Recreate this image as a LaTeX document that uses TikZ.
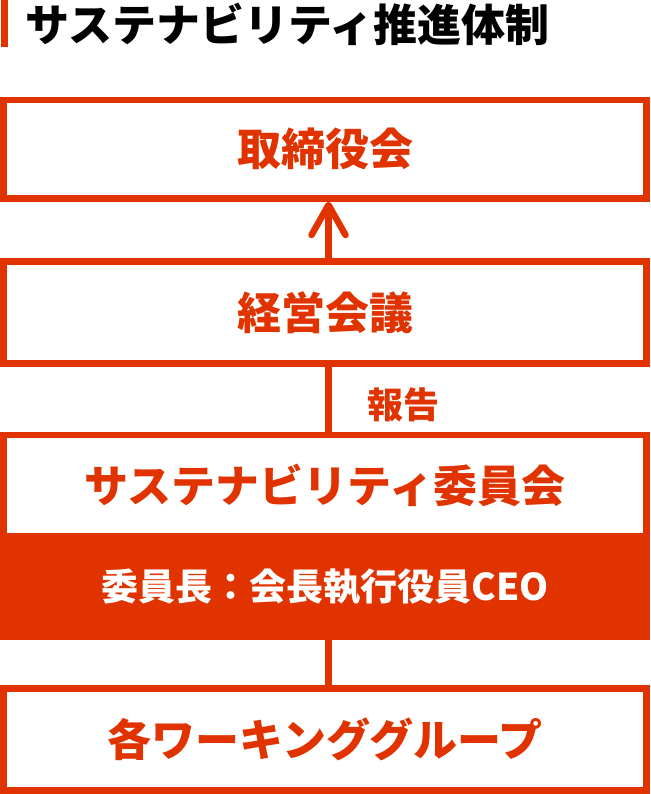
\documentclass[tikz,border=0pt]{standalone}
\usepackage{fontspec}
\setmainfont{Noto Sans CJK JP}
\usetikzlibrary{arrows.meta}
\definecolor{brand}{HTML}{E03300}
\tikzset{
  box/.style={draw=brand, line width=6.5pt, minimum width=643pt, inner sep=0pt, text=brand,
    font=\fontsize{44}{50}\selectfont\bfseries},
  filledbox/.style={box, fill=brand, text=white, font=\fontsize{37}{42}\selectfont\bfseries},
  link/.style={draw=brand, line width=6.5pt},
  uparrow/.style={link, -{Straight Barb[length=30pt, width=34pt, round]}},
  lbl/.style={text=brand, inner sep=0pt, font=\fontsize{36}{40}\selectfont\bfseries},
  titletext/.style={text=black, inner sep=0pt, anchor=west, font=\fontsize{44}{50}\selectfont\bfseries}
}
\begin{document}
\begin{tikzpicture}[x=1pt, y=-1pt]
\useasboundingbox (0,0) rectangle (650,794);
% title
\fill[brand] (1,0) rectangle (7.5,47);
\node[titletext] (title) at (25,24) {サステナビリティ推進体制};
% boxes
\node[box, minimum height=98.5pt] (board) at (325,149.25) {取締役会};
\node[box, minimum height=102pt] (mgmt) at (325,312.5) {経営会議};
\node[box, minimum height=101.25pt] (comm) at (325,485.6) {サステナビリティ委員会};
\node[filledbox, minimum height=100.5pt] (chair) at (325,586.5) {委員長：会長執行役員CEO};
\node[box, minimum height=102pt] (wg) at (325,739.5) {各ワーキンググループ};
% connectors
\draw[uparrow] ([xshift=3.5pt]mgmt.north) -- ([xshift=3.5pt]board.south);
\draw[link] ([xshift=3.5pt]comm.north) -- ([xshift=3.5pt]mgmt.south);
\draw[link] ([xshift=3.5pt]chair.south) -- ([xshift=3.5pt]wg.north);
\node[lbl] (report) at (403,405) {報告};
\end{tikzpicture}
\end{document}
